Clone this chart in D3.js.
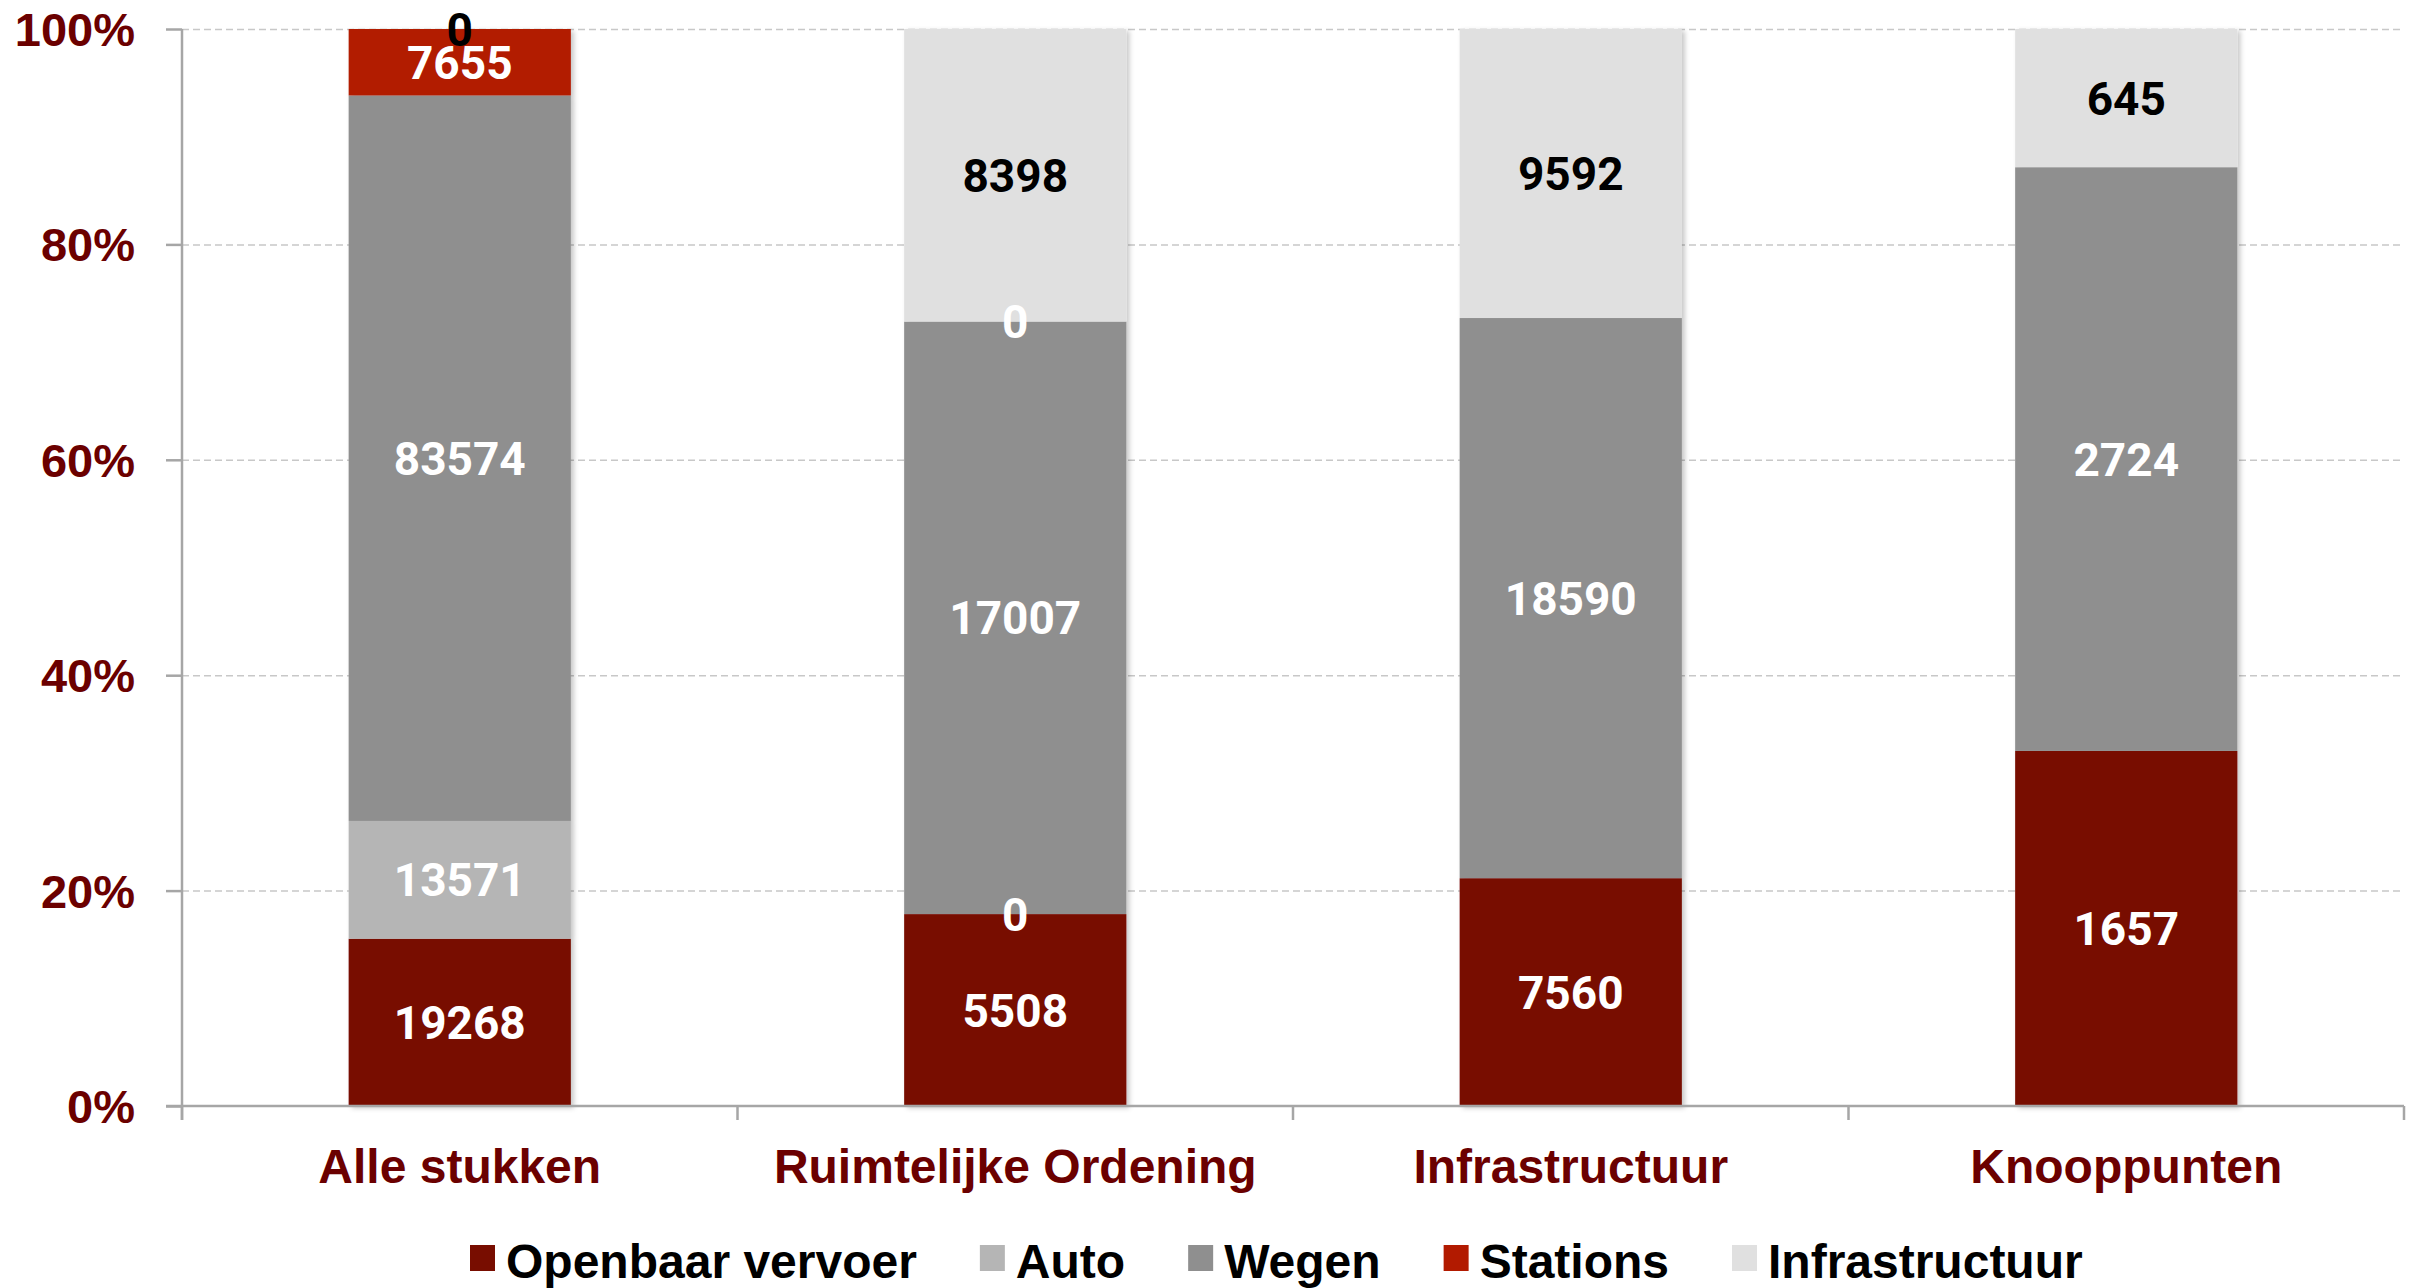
<!DOCTYPE html>
<html>
<head>
<meta charset="utf-8">
<script src="https://cdn.jsdelivr.net/npm/d3@7"></script>
<style>
  html, body { margin: 0; padding: 0; background: #fff; }
  svg { display: block; }
  text { font-family: "Liberation Sans", Arial, sans-serif; font-weight: 700; }
  text.val { font-family: Roboto, "Liberation Sans", Arial, sans-serif; }
</style>
</head>
<body>
<svg id="chart" width="2413" height="1288"></svg>
<script>
const categories = ["Alle stukken", "Ruimtelijke Ordening", "Infrastructuur", "Knooppunten"];
const seriesNames = ["Openbaar vervoer", "Auto", "Wegen", "Stations", "Infrastructuur"];
const seriesColors = ["#780d00", "#b5b5b5", "#8f8f8f", "#b21a00", "#e0e0e0"];
const labelColors = ["#ffffff", "#ffffff", "#ffffff", "#ffffff", "#000000"];
const ovValues = [19268, 5508, 7560, 1657];
const autoValues = [13571, 0, null, null];
const wegenValues = [83574, 17007, 18590, 2724];
const stationsValues = [7655, 0, null, null];
const infraValues = [0, 8398, 9592, 645];
const yTicks = [0, 0.2, 0.4, 0.6, 0.8, 1];

const seriesValues = [ovValues, autoValues, wegenValues, stationsValues, infraValues];

const rows = categories.map((c, i) => {
  const r = { category: c };
  seriesNames.forEach((s, j) => { r["s" + j] = seriesValues[j][i]; });
  return r;
});
const keys = seriesNames.map((s, j) => "s" + j);

const stack = d3.stack()
  .keys(keys)
  .value((d, k) => d[k] == null ? 0 : d[k])
  .offset(d3.stackOffsetExpand);
const stacked = stack(rows);

const svg = d3.select("#chart");
const margin = { left: 182, right: 9, top: 29, bottom: 182 };
const W = 2413, H = 1288;
const x0 = margin.left, x1 = W - margin.right;
const y0 = 1106, y1 = margin.top;

const x = d3.scaleBand().domain(categories).range([x0, x1]).paddingInner(0.6).paddingOuter(0.3);
const xb = d3.scaleBand().domain(categories).range([x0, x1]).padding(0);
const y = d3.scaleLinear().domain([0, 1]).range([y0, y1]);

// shadow filter
const defs = svg.append("defs");
const f = defs.append("filter").attr("id", "shadow").attr("x", "-10%").attr("y", "-10%").attr("width", "130%").attr("height", "130%");
f.append("feDropShadow").attr("dx", 3).attr("dy", 2).attr("stdDeviation", 2.5).attr("flood-color", "#000").attr("flood-opacity", 0.22);

// grid lines
const grid = svg.append("g").attr("transform", `translate(${x0},0)`)
  .call(d3.axisLeft(y).tickValues(yTicks.filter(t => t > 0)).tickSize(-(x1 - x0)).tickFormat(""));
grid.select(".domain").remove();
grid.selectAll("line").attr("stroke", "#c8c8c8").attr("stroke-width", 1.5).attr("stroke-dasharray", "7,4");

// bars
const barLayer = svg.append("g").attr("filter", "url(#shadow)");
stacked.forEach((layer, j) => {
  barLayer.append("g").attr("fill", seriesColors[j])
    .selectAll("rect").data(layer).join("rect")
    .attr("x", d => x(d.data.category))
    .attr("width", x.bandwidth())
    .attr("y", d => y(d[1]))
    .attr("height", d => Math.max(0, y(d[0]) - y(d[1])));
});

// y axis
const yAxis = svg.append("g").attr("transform", `translate(${x0},0)`)
  .call(d3.axisLeft(y).tickValues(yTicks).tickSize(16).tickPadding(31).tickFormat(d3.format(".0%")));
yAxis.select(".domain").attr("stroke", "#a6a6a6").attr("stroke-width", 2.5)
  .attr("d", `M0,${y1}V${y0 + 14}`);
yAxis.selectAll(".tick line").attr("stroke", "#a6a6a6").attr("stroke-width", 2.5);
yAxis.selectAll(".tick text").attr("fill", "#6b0000").style("font-size", "47px")
  .style("font-family", "'Liberation Sans', Arial, sans-serif").style("font-weight", 700)
  .attr("dy", "0.35em");

// x axis
const xAxis = svg.append("g").attr("transform", `translate(0,${y0})`);
xAxis.append("line").attr("x1", x0 - 16).attr("x2", x1).attr("y1", 0).attr("y2", 0)
  .attr("stroke", "#a6a6a6").attr("stroke-width", 2.5);
const boundaries = categories.map(c => xb(c)).concat([x1]);
xAxis.selectAll("line.tk").data(boundaries).join("line").attr("class", "tk")
  .attr("x1", d => d).attr("x2", d => d).attr("y1", 0).attr("y2", 14)
  .attr("stroke", "#a6a6a6").attr("stroke-width", 2.5);
xAxis.selectAll("text.cat").data(categories).join("text").attr("class", "cat")
  .attr("x", d => x(d) + x.bandwidth() / 2).attr("y", 77)
  .attr("text-anchor", "middle").attr("fill", "#6b0000").style("font-size", "48px")
  .text(d => d);

// value labels
const labelLayer = svg.append("g");
stacked.forEach((layer, j) => {
  labelLayer.append("g").selectAll("text")
    .data(layer.filter(d => d.data["s" + j] != null)).join("text")
    .attr("class", "val")
    .attr("x", d => x(d.data.category) + x.bandwidth() / 2)
    .attr("y", d => y((d[0] + d[1]) / 2))
    .attr("dy", "0.36em")
    .attr("text-anchor", "middle")
    .attr("fill", labelColors[j])
    .style("font-size", "46px")
    .text(d => d.data["s" + j]);
});

// legend
const legend = svg.append("g").attr("transform", "translate(470,1245)");
let lx = 0;
seriesNames.forEach((s, j) => {
  const g = legend.append("g").attr("transform", `translate(${lx},0)`);
  g.append("rect").attr("width", 25).attr("height", 26).attr("fill", seriesColors[j]);
  const t = g.append("text").attr("x", 36).attr("y", 33).attr("fill", "#000").style("font-size", "48px").text(s);
  lx += 36 + t.node().getComputedTextLength() + 63;
});
</script>
</body>
</html>
